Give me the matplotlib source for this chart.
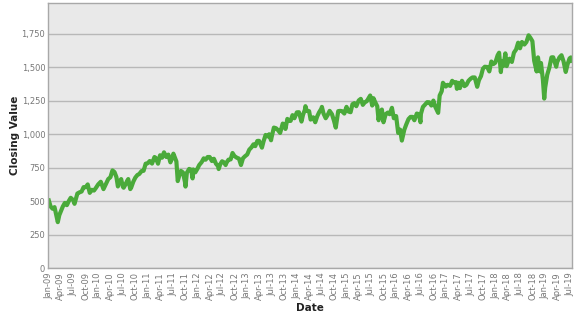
import matplotlib
matplotlib.use("Agg")
import matplotlib.pyplot as plt
import matplotlib.dates as mdates
from matplotlib.ticker import FuncFormatter
import numpy as np
import pandas as pd

# closing values (roughly twice a month, plus the big dips)
dates = [
    "2009-01-02", "2009-01-15", "2009-01-30", "2009-02-13", "2009-02-27", "2009-03-09", "2009-03-20", "2009-03-31",
    "2009-04-15", "2009-04-30", "2009-05-15", "2009-05-29", "2009-06-12", "2009-06-30", "2009-07-10", "2009-07-31",
    "2009-08-14", "2009-08-31", "2009-09-15", "2009-09-30", "2009-10-15", "2009-10-30", "2009-11-13", "2009-11-30",
    "2009-12-15", "2009-12-31",
    "2010-01-19", "2010-02-08", "2010-02-26", "2010-03-15", "2010-03-31", "2010-04-15", "2010-04-30", "2010-05-14",
    "2010-05-25", "2010-06-01", "2010-06-18", "2010-06-30", "2010-07-06", "2010-07-20", "2010-07-31", "2010-08-09",
    "2010-08-24", "2010-08-31", "2010-09-15", "2010-09-30", "2010-10-15", "2010-10-29", "2010-11-15", "2010-11-30",
    "2010-12-15", "2010-12-31",
    "2011-01-14", "2011-01-31", "2011-02-18", "2011-02-28", "2011-03-16", "2011-03-31", "2011-04-15", "2011-04-29",
    "2011-05-16", "2011-05-31", "2011-06-15", "2011-06-30", "2011-07-07", "2011-07-29", "2011-08-08", "2011-08-19",
    "2011-08-31", "2011-09-15", "2011-09-30", "2011-10-04", "2011-10-14", "2011-10-31", "2011-11-15", "2011-11-25",
    "2011-11-30", "2011-12-15", "2011-12-30",
    "2012-01-13", "2012-01-31", "2012-02-15", "2012-02-29", "2012-03-15", "2012-03-30", "2012-04-15", "2012-04-30",
    "2012-05-15", "2012-05-31", "2012-06-04", "2012-06-15", "2012-06-29", "2012-07-13", "2012-07-25", "2012-07-31",
    "2012-08-15", "2012-08-31", "2012-09-14", "2012-09-28", "2012-10-15", "2012-10-31", "2012-11-15", "2012-11-30",
    "2012-12-14", "2012-12-31",
    "2013-01-15", "2013-01-31", "2013-02-15", "2013-02-28", "2013-03-15", "2013-03-28", "2013-04-18", "2013-04-30",
    "2013-05-15", "2013-05-31", "2013-06-10", "2013-06-24", "2013-06-28", "2013-07-15", "2013-07-31", "2013-08-15",
    "2013-08-30", "2013-09-18", "2013-09-30", "2013-10-08", "2013-10-22", "2013-10-31", "2013-11-15", "2013-11-29",
    "2013-12-13", "2013-12-31",
    "2014-01-15", "2014-02-03", "2014-02-14", "2014-02-28", "2014-03-04", "2014-03-14", "2014-03-31", "2014-04-11",
    "2014-04-30", "2014-05-15", "2014-05-30", "2014-06-13", "2014-06-30", "2014-07-03", "2014-07-15", "2014-07-31",
    "2014-08-15", "2014-08-29", "2014-09-15", "2014-09-30", "2014-10-13", "2014-10-31", "2014-11-14", "2014-11-28",
    "2014-12-15", "2014-12-31",
    "2015-01-15", "2015-01-30", "2015-02-13", "2015-02-27", "2015-03-13", "2015-03-31", "2015-04-15", "2015-04-30",
    "2015-05-15", "2015-05-29", "2015-06-23", "2015-06-30", "2015-07-08", "2015-07-17", "2015-07-31", "2015-08-14",
    "2015-08-24", "2015-08-31", "2015-09-17", "2015-09-29", "2015-10-15", "2015-10-30", "2015-11-13", "2015-11-30",
    "2015-12-14", "2015-12-31",
    "2016-01-15", "2016-01-29", "2016-02-11", "2016-02-29", "2016-03-15", "2016-03-31", "2016-04-15", "2016-04-29",
    "2016-05-13", "2016-05-31", "2016-06-15", "2016-06-27", "2016-06-30", "2016-07-15", "2016-07-29", "2016-08-15",
    "2016-08-31", "2016-09-15", "2016-09-30", "2016-10-14", "2016-11-04", "2016-11-15", "2016-11-30", "2016-12-09",
    "2016-12-30",
    "2017-01-13", "2017-01-31", "2017-02-15", "2017-02-28", "2017-03-15", "2017-03-22", "2017-03-31", "2017-04-13",
    "2017-04-28", "2017-05-17", "2017-05-31", "2017-06-15", "2017-06-30", "2017-07-14", "2017-07-31", "2017-08-18",
    "2017-08-31", "2017-09-15", "2017-09-29", "2017-10-13", "2017-10-31", "2017-11-15", "2017-11-30", "2017-12-15",
    "2017-12-29",
    "2018-01-15", "2018-01-26", "2018-02-08", "2018-02-15", "2018-02-28", "2018-03-13", "2018-03-23", "2018-03-29",
    "2018-04-13", "2018-04-30", "2018-05-15", "2018-05-31", "2018-06-15", "2018-06-29", "2018-07-13", "2018-07-31",
    "2018-08-15", "2018-08-31", "2018-09-14", "2018-09-28", "2018-10-11", "2018-10-29", "2018-10-31", "2018-11-08",
    "2018-11-23", "2018-11-30", "2018-12-14", "2018-12-24", "2018-12-31",
    "2019-01-15", "2019-01-31", "2019-02-15", "2019-02-28", "2019-03-22", "2019-03-29", "2019-04-15", "2019-04-30",
    "2019-05-15", "2019-05-31", "2019-06-14", "2019-06-28", "2019-07-08", "2019-07-15",
]
closing = [
    505, 460, 443, 455, 389, 343, 395, 423,
    460, 487, 470, 501, 525, 508, 480, 557,
    565, 572, 605, 604, 625, 562, 585, 579,
    600, 625,
    645, 590, 628, 665, 679, 730, 717, 680,
    610, 640, 665, 609, 600, 625, 650, 665,
    590, 602, 645, 676, 695, 703, 725, 727,
    780, 784,
    800, 781, 830, 823, 780, 843, 825, 865,
    830, 848, 790, 827, 855, 797, 650, 690,
    726, 715, 644, 609, 712, 741, 735, 670,
    737, 715, 741,
    770, 792, 820, 810, 830, 830, 800, 817,
    780, 761, 740, 775, 798, 790, 770, 786,
    810, 812, 860, 837, 825, 818, 770, 821,
    835, 849,
    885, 902, 925, 911, 950, 951, 900, 947,
    995, 984, 1000, 955, 977, 1050, 1045, 1030,
    1010, 1080, 1073, 1040, 1115, 1100, 1100, 1143,
    1120, 1164,
    1165, 1095, 1145, 1183, 1210, 1175, 1173, 1110,
    1127, 1090, 1135, 1165, 1193, 1205, 1155, 1120,
    1145, 1175, 1150, 1101, 1050, 1173, 1175, 1173,
    1155, 1205,
    1170, 1165, 1225, 1233, 1210, 1253, 1265, 1220,
    1240, 1247, 1290, 1254, 1215, 1270, 1238, 1210,
    1105, 1159, 1185, 1090, 1150, 1162, 1150, 1198,
    1120, 1136,
    1010, 1035, 953, 1034, 1075, 1114, 1130, 1130,
    1105, 1155, 1150, 1090, 1152, 1205, 1220, 1240,
    1239, 1215, 1252, 1205, 1160, 1290, 1322, 1385,
    1357,
    1370, 1362, 1400, 1386, 1390, 1340, 1385, 1345,
    1400, 1360, 1370, 1400, 1415, 1425, 1425, 1355,
    1405, 1435, 1490, 1505, 1503, 1470, 1544, 1525,
    1535,
    1590, 1610, 1465, 1545, 1512, 1605, 1510, 1529,
    1565, 1541, 1610, 1634, 1685, 1643, 1690, 1671,
    1690, 1740, 1720, 1696, 1550, 1470, 1511, 1575,
    1470, 1533, 1410, 1267, 1349,
    1445, 1500, 1575, 1576, 1505, 1540, 1575, 1591,
    1545, 1466, 1525, 1567, 1575, 1550,
]
y_ticks = [0, 250, 500, 750, 1000, 1250, 1500, 1750]

df = pd.DataFrame({"date": pd.to_datetime(dates), "close": closing})

fig = plt.figure(figsize=(5.77, 3.15), dpi=100)
ax = fig.add_axes([0.0832, 0.1492, 0.9081, 0.8397])
ax.set_facecolor("#e9e9e9")

ax.plot(df["date"], df["close"], color="#4aaa3a", linewidth=3.0, solid_joinstyle="round")

ax.set_ylim(0, 1978)
ax.set_xlim(pd.Timestamp("2008-12-27"), pd.Timestamp("2019-07-16"))
ax.set_yticks(y_ticks)
ax.yaxis.set_major_formatter(FuncFormatter(lambda v, p: f"{int(v):,}"))

xt = pd.date_range("2009-01-01", "2019-07-01", freq="QS")
ax.set_xticks(xt)
ax.xaxis.set_major_formatter(mdates.DateFormatter("%b-%y"))
plt.setp(ax.get_xticklabels(), rotation=90)

ax.tick_params(axis="both", length=0, labelsize=6, labelcolor="#777777")
ax.tick_params(axis="x", pad=3)
ax.tick_params(axis="y", pad=2)

ax.grid(axis="y", color="#b8b8b8", linewidth=1.0)
ax.set_axisbelow(True)
for s in ax.spines.values():
    s.set_color("#a8a8a8")
    s.set_linewidth(1.0)

ax.set_xlabel("Date", fontsize=7.5, fontweight="bold", color="#222222", labelpad=2)
ax.set_ylabel("Closing Value", fontsize=7.5, fontweight="bold", color="#222222", labelpad=1)

fig.savefig("out.png", dpi=100)
